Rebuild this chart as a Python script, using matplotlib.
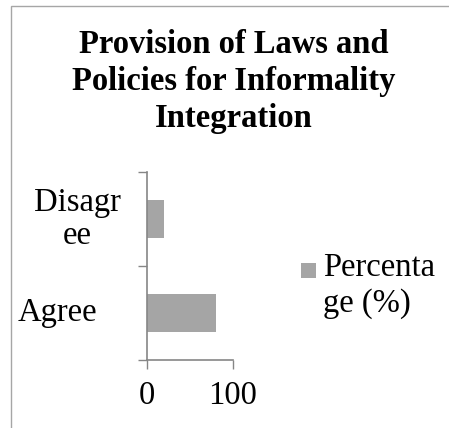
import matplotlib.pyplot as plt
from matplotlib.patches import Rectangle
from matplotlib.legend_handler import HandlerPatch
import matplotlib.transforms as mtransforms

categories = ['Agree', 'Disagr\nee']
values = [80, 20]
series_name = 'Percenta\nge (%)'
title = 'Provision of Laws and\nPolicies for Informality\nIntegration'

bar_color = '#A5A5A5'
axis_color = '#868686'
fs = 23.5

plt.rcParams['font.family'] = ['Liberation Serif', 'DejaVu Serif']

fig = plt.figure(figsize=(4.49, 4.28), dpi=100)

# outer chart frame (only left/top visible in the reference)
fig.patches.append(Rectangle((11 / 449, -0.1), 1.2, 1 - 6 / 428 + 0.1,
                             transform=fig.transFigure, fill=False,
                             edgecolor='#A6A6A6', linewidth=1.0))

ax = fig.add_axes([147 / 449, 1 - 360 / 428, 86 / 449, 188 / 428])
ypos = list(range(len(categories)))
bars = ax.barh(ypos, values, height=0.41, color=bar_color, label=series_name)

ax.set_xlim(0, 100)
ax.set_ylim(-0.5, len(categories) - 0.5)
ax.set_xticks([0, 100])
ax.set_yticks([y - 0.5 for y in range(len(categories) + 1)])
ax.set_yticklabels([])
ax.tick_params(axis='both', direction='out', length=6.5, width=1, color=axis_color)
ax.tick_params(axis='x', labelsize=fs, pad=8)
for s in ['top', 'right']:
    ax.spines[s].set_visible(False)
for s in ['left', 'bottom']:
    ax.spines[s].set_color(axis_color)
    ax.spines[s].set_linewidth(1.2)

# category labels, wrapped like the original
trans = mtransforms.blended_transform_factory(fig.transFigure, ax.transData)
label_x = [57 / 449, 77 / 449]
for y, lab, lx in zip(ypos, categories, label_x):
    fig.text(lx, y, lab, transform=trans, ha='center', va='center',
             fontsize=fs, linespacing=1.12, multialignment='center')

fig.text(234 / 449, 1 - 29 / 428, title, ha='center', va='top',
         fontsize=fs, fontweight='bold', linespacing=1.25)


# legend key sits next to the first line of the wrapped label
def top_square(legend, orig_handle, xdescent, ydescent, width, height, fontsize):
    h = 0.46 * fontsize
    return Rectangle((-xdescent, -ydescent + height - h - 0.02 * fontsize), width, h)


key = bars.patches[0]
fig.legend(handles=[key], labels=[series_name], loc='upper left',
           bbox_to_anchor=(301 / 449, 1 - 253 / 428), frameon=False,
           fontsize=fs, handlelength=0.47, handleheight=2.0, handletextpad=0.2,
           borderpad=0, borderaxespad=0,
           handler_map={key: HandlerPatch(patch_func=top_square)})

fig.savefig('out.png', dpi=100)
